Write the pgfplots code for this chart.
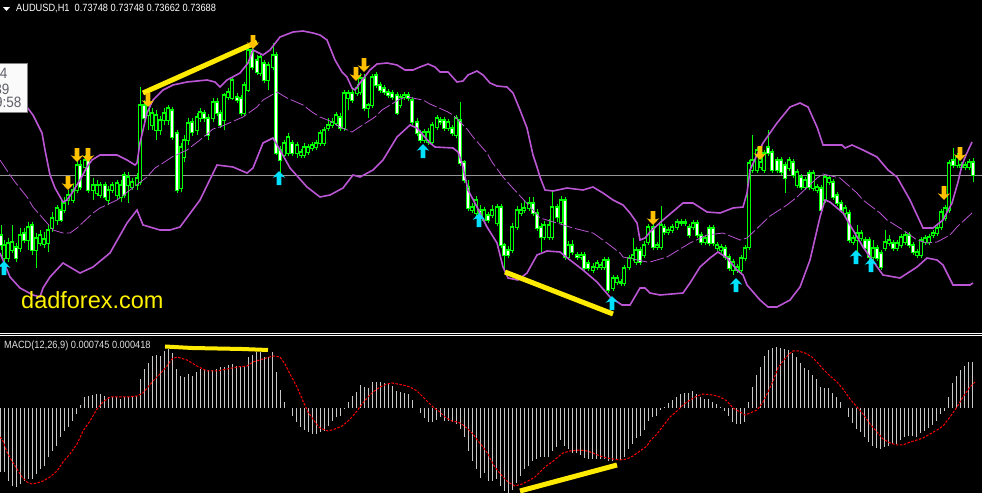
\documentclass[border=0pt]{standalone}
\usepackage{pgfplots}
\pgfplotsset{compat=1.18}
\usepackage{pgfplotstable}
\usepackage{graphicx}
\usepackage{fontspec}
\setmainfont{Liberation Sans}
\definecolor{band}{RGB}{186,85,211}
\definecolor{candle}{RGB}{0,255,0}
\definecolor{acyan}{RGB}{0,225,255}
\definecolor{aorange}{RGB}{255,192,0}
\definecolor{hl}{RGB}{255,235,0}
\definecolor{macdbar}{RGB}{200,200,200}
\definecolor{bid}{RGB}{150,150,150}
\definecolor{tiptext}{RGB}{95,95,105}
\definecolor{macdtext}{RGB}{225,225,225}
\pgfdeclareplotmark{uparr}{%
 \pgfpathmoveto{\pgfqpoint{0pt}{7pt}}%
 \pgfpathlineto{\pgfqpoint{6.3pt}{0.3pt}}%
 \pgfpathlineto{\pgfqpoint{2.3pt}{1.6pt}}%
 \pgfpathlineto{\pgfqpoint{2.3pt}{-7pt}}%
 \pgfpathlineto{\pgfqpoint{-2.3pt}{-7pt}}%
 \pgfpathlineto{\pgfqpoint{-2.3pt}{1.6pt}}%
 \pgfpathlineto{\pgfqpoint{-6.3pt}{0.3pt}}%
 \pgfpathclose\pgfusepathqfill}
\pgfdeclareplotmark{downarr}{%
 \pgfpathmoveto{\pgfqpoint{0pt}{-7pt}}%
 \pgfpathlineto{\pgfqpoint{6.3pt}{-0.3pt}}%
 \pgfpathlineto{\pgfqpoint{2.3pt}{-1.6pt}}%
 \pgfpathlineto{\pgfqpoint{2.3pt}{7pt}}%
 \pgfpathlineto{\pgfqpoint{-2.3pt}{7pt}}%
 \pgfpathlineto{\pgfqpoint{-2.3pt}{-1.6pt}}%
 \pgfpathlineto{\pgfqpoint{-6.3pt}{-0.3pt}}%
 \pgfpathclose\pgfusepathqfill}
\newcommand{\mtfont}[1]{{\fontsize{10.5}{12}\selectfont\scalebox{0.88}[1]{#1}}}
\newcommand{\tipfont}[1]{{\fontsize{15}{17}\selectfont\scalebox{0.9}[1]{#1}}}
% candles in screen pixels: x, body top, body bottom, wick top, wick bottom, t (1 = white/bear)
\pgfplotstableread{
x bt bb wt wb t
1 235 245 225 250 1
4 245 258 240 262 0
8 243 258 238 262 0
12 242 250 225 253 0
16 247 258 243 262 1
20 235 248 228 252 0
24 233 240 228 243 1
28 227 240 222 250 0
32 225 250 222 255 1
36 238 250 233 268 0
40 235 243 230 246 0
44 239 244 232 248 0
48 230 243 225 252 0
52 218 228 212 232 0
57 208 220 205 225 0
61 210 220 198 222 1
64 203 210 197 213 0
68 195 200 190 205 0
73 190 200 184 203 0
77 165 190 158 193 0
80 165 187 160 190 1
85 160 167 155 170 0
88 160 190 157 193 1
93 185 190 178 200 0
97 185 193 180 196 0
100 185 195 182 198 0
105 185 197 182 200 1
108 190 200 186 205 0
112 185 190 182 193 0
117 183 195 180 200 0
121 185 197 180 202 0
124 175 195 172 198 1
128 177 185 172 203 0
132 182 187 178 190 0
137 178 185 173 190 0
140 105 182 87 185 0
144 105 118 100 122 1
148 105 115 100 130 0
152 113 125 108 130 0
156 115 130 110 140 0
160 120 130 116 135 0
164 113 120 108 125 0
168 108 120 105 125 0
172 110 137 107 140 1
177 133 190 130 193 1
181 147 188 143 192 0
184 140 157 135 162 0
188 123 140 118 145 0
192 122 132 118 136 1
197 117 130 113 135 0
200 112 118 108 122 0
204 113 118 110 122 1
208 118 135 114 140 1
213 102 118 98 122 0
217 102 113 98 116 1
220 113 125 110 128 1
224 95 120 93 130 0
228 92 97 88 100 0
232 80 98 77 100 0
237 97 100 93 103 1
241 98 113 95 116 1
244 85 113 82 116 0
248 50 90 47 92 0
252 50 67 47 70 1
257 60 72 55 75 1
260 57 73 55 76 0
264 63 80 60 83 1
268 65 80 62 90 0
273 55 67 43 70 0
276 55 153 52 155 1
280 150 160 146 175 1
284 143 155 140 158 0
288 137 153 133 156 0
292 143 153 140 156 1
297 145 153 142 158 0
301 152 155 149 158 0
304 147 155 143 158 0
308 147 152 144 155 0
312 145 148 142 151 0
316 143 147 140 150 0
320 133 143 130 146 0
324 130 143 127 146 0
328 125 128 118 131 0
332 122 125 118 128 0
336 115 123 112 126 0
340 117 128 113 131 1
344 93 128 90 131 0
348 93 98 90 110 0
352 93 100 88 103 1
357 88 93 84 96 0
360 78 92 73 95 0
364 78 108 74 111 1
368 105 108 103 118 0
372 77 105 74 108 0
376 75 85 72 88 1
380 85 90 82 93 1
384 88 92 85 95 1
388 92 95 89 98 1
392 93 97 90 100 1
397 95 113 92 115 1
400 97 105 94 108 0
404 95 97 92 100 0
408 95 98 92 101 1
412 100 122 97 125 1
417 122 133 118 136 1
420 133 140 130 143 1
424 132 140 129 143 0
428 132 142 128 145 0
432 125 142 122 145 0
437 118 127 115 130 0
440 120 122 117 125 1
444 120 128 117 131 1
448 122 128 119 131 0
452 128 133 125 136 1
456 118 135 115 138 0
460 120 163 102 166 1
464 162 180 160 183 1
468 187 208 180 211 1
472 207 210 203 213 0
476 200 213 196 216 0
480 210 215 205 218 1
484 210 220 207 223 0
488 215 220 212 223 1
492 210 215 205 218 0
497 207 223 204 226 0
501 207 245 204 248 1
504 245 255 243 270 1
508 250 255 246 258 1
512 227 250 223 253 0
517 210 227 206 230 0
521 210 213 203 216 0
524 208 210 200 213 0
529 203 208 197 211 0
533 203 213 197 216 1
537 213 228 209 231 1
541 227 237 223 252 1
544 225 237 221 240 0
549 225 237 219 240 0
552 207 237 190 240 0
557 207 217 204 222 1
561 200 222 196 225 0
565 200 257 197 260 1
568 245 257 241 260 0
572 245 252 240 255 1
577 255 257 252 260 1
581 255 257 252 260 0
584 255 268 252 271 1
588 263 268 260 271 1
593 267 270 263 273 0
597 263 267 260 270 0
601 265 267 262 270 0
604 260 267 257 270 0
608 260 290 257 293 1
613 278 288 275 291 0
617 278 282 275 285 0
621 282 283 279 286 0
624 268 283 265 286 0
629 258 267 255 270 0
633 255 258 238 261 0
636 250 262 247 265 0
640 250 262 247 265 1
644 245 255 241 258 0
648 227 242 224 245 0
653 227 247 224 250 1
657 245 247 242 250 0
661 225 247 206 250 0
664 227 232 224 235 1
668 230 232 227 235 0
672 227 230 224 233 0
677 222 227 219 230 0
681 222 223 219 226 0
685 222 223 219 226 0
689 227 235 224 238 1
693 223 227 220 230 0
697 223 235 220 238 1
701 235 242 232 245 1
705 238 242 235 245 0
709 228 243 225 246 1
713 228 243 225 246 1
717 245 248 242 251 0
721 247 250 244 253 0
725 248 257 245 260 1
729 257 268 254 271 1
733 262 270 259 275 0
737 267 270 264 273 0
741 258 270 255 273 0
745 248 258 245 261 0
749 163 247 160 250 0
752 160 170 135 173 0
757 150 170 147 173 0
761 162 167 158 170 0
764 153 170 150 173 0
768 147 153 130 156 1
772 152 170 149 173 1
777 160 170 157 173 1
781 160 172 157 175 1
785 165 178 162 193 1
789 160 168 157 171 0
793 162 175 159 178 1
797 172 185 169 188 0
801 177 187 174 190 1
805 180 187 177 190 0
809 173 187 170 190 1
813 173 188 170 191 0
817 187 190 184 193 0
821 188 210 185 213 1
825 177 200 174 203 0
829 178 182 175 185 0
833 182 197 179 200 1
837 195 203 192 206 1
841 203 210 200 213 1
845 208 213 205 216 0
849 213 240 210 243 1
853 238 242 235 245 0
857 233 240 225 252 0
861 233 238 230 241 0
865 240 248 237 251 1
869 240 257 237 260 1
873 248 257 240 262 0
877 248 258 245 261 1
881 253 267 250 270 1
885 242 248 230 251 0
889 240 243 235 246 0
893 243 248 240 251 1
897 243 248 240 251 0
901 237 245 234 248 0
905 235 242 232 245 0
909 235 245 232 248 1
913 245 252 242 255 1
917 252 255 249 258 0
921 240 255 237 258 0
925 238 242 235 245 0
929 237 242 234 245 0
933 233 235 230 238 0
937 228 233 225 236 0
941 212 227 209 230 0
945 208 218 205 221 0
949 163 210 160 213 0
953 160 165 148 168 1
957 157 165 153 168 0
961 165 167 162 170 0
965 165 167 162 170 0
969 162 167 159 170 0
973 162 175 158 182 1
}\candles
\begin{document}
\begin{tikzpicture}
\useasboundingbox (0,0) rectangle (982pt,493pt);
\fill[black] (0,0) rectangle (982pt,493pt);
\draw[white, line width=1pt] (0,159.5pt) -- (982pt,159.5pt);
\draw[white, line width=1pt] (0,157.5pt) -- (982pt,157.5pt);
% ---------------- price pane ----------------
\begin{axis}[at={(0pt,160pt)}, anchor=south west, width=982pt, height=333pt,
  scale only axis, xmin=0, xmax=982, ymin=0, ymax=333, y dir=reverse, hide axis]
\addplot[bid, line width=1pt] coordinates {(0,175) (982,175)};
% wicks
\addplot[draw=none, error bars/.cd, y dir=plus, y explicit, error mark=none,
  error bar style={draw=candle, line width=1pt}]
  table[x=x, y=wt, y error expr=\thisrow{wb}-\thisrow{wt}] {\candles};
% bodies
\addplot[draw=none, error bars/.cd, y dir=plus, y explicit, error mark=none,
  error bar style={draw=candle, line width=3.4pt}]
  table[x=x, y expr=\thisrow{bt}-0.7, y error expr=\thisrow{bb}-\thisrow{bt}+1.4] {\candles};
\addplot[draw=none, error bars/.cd, y dir=plus, y explicit, error mark=none,
  error bar style={draw=black, line width=1.6pt}]
  table[x=x, y expr=\thisrow{bt}+0.5, y error expr={max(\thisrow{bb}-\thisrow{bt}-1,0)}] {\candles};
\addplot[draw=none, error bars/.cd, y dir=plus, y explicit, error mark=none,
  error bar style={draw=white, line width=1.6pt}]
  table[x=x, y expr=\thisrow{bt}+0.5, y error expr={\thisrow{t}*max(\thisrow{bb}-\thisrow{bt}-1,0)}] {\candles};
% Bollinger bands
\addplot[band, line width=1.6pt] coordinates {
(0,85) (15,92) (27,107) (33,115) (42,133) (45,150) (48,165) (50,175) (55,188) (63,202) (67,200) (72,193) (80,180) (87,167) (92,160) (100,155) (117,155) (127,160) (135,165) (137,163) (140,143) (147,113) (153,100) (163,90) (173,85) (187,82) (207,80) (215,82) (220,87) (227,80) (240,73) (248,63) (253,50) (263,55) (270,50) (280,37) (293,32) (303,31) (313,33) (320,35) (327,40) (335,60) (342,72) (347,77) (352,88) (355,90) (360,83) (370,70) (377,64) (387,63) (397,65) (405,70) (413,70) (420,67) (428,64) (435,67) (440,72) (448,72) (457,82) (463,81) (468,75) (477,71) (483,75) (490,83) (497,86) (507,87) (513,93) (520,110) (527,128) (533,155) (537,167) (540,177) (545,190) (553,191) (567,188) (583,190) (593,187) (603,193) (613,200) (623,205) (630,213) (637,223) (640,240) (645,238) (650,232) (663,220) (683,203) (693,203) (707,212) (720,213) (733,208) (743,207) (747,193) (750,170) (757,155) (763,143) (777,123) (790,107) (800,103) (808,107) (817,127) (823,145) (842,145) (845,148) (852,145) (863,150) (877,157) (888,170) (897,177) (910,200) (923,228) (933,228) (943,220) (952,203) (958,182) (962,165) (966,155) (972,142)};
\addplot[band, line width=0.8pt, dash pattern=on 14pt off 3pt] coordinates {
(0,160) (10,175) (15,182) (27,197) (33,207) (47,223) (53,230) (63,233) (70,233) (77,228) (93,213) (100,208) (117,200) (130,190) (147,177) (155,168) (163,163) (172,157) (187,150) (200,140) (213,129) (220,127) (243,117) (257,107) (263,100) (277,92) (287,98) (303,105) (312,112) (320,117) (330,121) (340,127) (352,132) (358,128) (375,117) (382,110) (400,99) (407,97) (423,100) (430,104) (448,112) (453,115) (467,129) (473,137) (487,153) (492,162) (503,177) (510,185) (533,210) (540,218) (557,223) (573,228) (593,233) (603,240) (620,253) (623,257) (647,262) (650,262) (667,257) (690,243) (707,235) (723,233) (740,240) (747,238) (770,216) (787,205) (797,197) (817,178) (823,174) (840,178) (857,193) (863,200) (880,213) (887,220) (903,230) (917,240) (927,243) (937,242) (950,235) (957,227) (972,213)};
\addplot[band, line width=1.6pt] coordinates {
(0,253) (10,277) (20,288) (33,295) (40,297) (43,288) (50,277) (63,263) (80,273) (93,267) (110,253) (127,223) (137,210) (143,225) (160,230) (170,230) (180,227) (200,200) (217,165) (233,167) (247,173) (253,168) (263,143) (273,138) (280,150) (290,168) (307,187) (320,197) (330,195) (343,188) (353,175) (360,177) (373,170) (383,160) (397,137) (410,125) (417,128) (430,143) (435,147) (453,148) (458,152) (462,163) (468,190) (477,207) (487,227) (497,243) (503,267) (508,278) (518,280) (527,273) (537,255) (547,251) (560,252) (570,260) (583,270) (597,282) (610,297) (622,305) (630,305) (640,288) (645,288) (650,293) (660,295) (683,293) (690,283) (700,267) (710,258) (718,252) (727,258) (737,270) (743,275) (747,285) (760,300) (768,307) (777,307) (790,300) (800,287) (810,260) (820,217) (825,200) (830,202) (843,213) (853,230) (863,247) (870,257) (883,275) (900,278) (917,267) (927,258) (937,260) (943,265) (953,285) (970,285) (973,283)};
% signal arrows
\addplot[only marks, mark=uparr, color=acyan] coordinates {
(4,268) (279,178) (423,151) (479,220) (612,303) (736,285) (856,257) (871,265)};
\addplot[only marks, mark=downarr, color=aorange] coordinates {
(68,183) (77,155) (88,155) (148,100) (253,42) (356,74) (364,65) (653,218) (760,153) (944,193) (960,154)};
% hand-drawn divergence lines
\addplot[hl, line width=5pt] coordinates {(143,93) (257,42)};
\addplot[hl, line width=5pt] coordinates {(505,272) (613,314)};
% texts
\fill[white] (axis cs:3,7) -- (axis cs:10,7) -- (axis cs:6.5,11) -- cycle;
\node[anchor=base west, inner sep=0pt, text=white] at (axis cs:16,12)
  {\mtfont{AUDUSD,H1\ \ 0.73748 0.73748 0.73662 0.73688}};
\filldraw[fill=white!96!gray, draw=gray] (axis cs:-2,63) rectangle (axis cs:27,112);
\node[anchor=base east, inner sep=0pt, text=tiptext] at (axis cs:7.5,78) {\tipfont{4}};
\node[anchor=base east, inner sep=0pt, text=tiptext] at (axis cs:9.5,94) {\tipfont{39}};
\node[anchor=base east, inner sep=0pt, text=tiptext] at (axis cs:21.5,107) {\tipfont{9:58}};
\node[anchor=base west, inner sep=0pt, text=yellow] at (axis cs:21,308)
  {\fontsize{23.5}{26}\selectfont dadforex.com};
\end{axis}
% ---------------- MACD pane ----------------
\begin{axis}[at={(0pt,0pt)}, anchor=south west, width=982pt, height=156pt,
  scale only axis, xmin=0, xmax=982, ymin=-85, ymax=71, hide axis]
\addplot[ycomb, draw=macdbar, line width=1pt, mark=none] coordinates {
(0.5,-64) (4.5,-64) (8.5,-73) (12.5,-78) (16.5,-79) (20.5,-76) (24.5,-73) (28.5,-71) (32.5,-71) (36.5,-66)
(40.5,-61) (44.5,-58) (48.5,-49) (52.5,-43) (56.5,-38) (60.5,-29) (64.5,-23) (68.5,-19) (72.5,-13) (76.5,-6)
(80.5,3) (84.5,11) (88.5,12) (92.5,13) (96.5,14) (100.5,14) (104.5,12) (108.5,11) (112.5,11) (116.5,11)
(120.5,9) (124.5,11) (128.5,11) (132.5,11) (136.5,12) (140.5,29) (144.5,39) (148.5,45) (152.5,52) (156.5,53)
(160.5,52) (164.5,57) (168.5,59) (172.5,55) (176.5,39) (180.5,32) (184.5,31) (188.5,34) (192.5,32) (196.5,36)
(200.5,39) (204.5,38) (208.5,38) (212.5,38) (216.5,39) (220.5,41) (224.5,41) (228.5,43) (232.5,44) (236.5,42)
(240.5,41) (244.5,42) (248.5,51) (252.5,53) (256.5,56) (260.5,56) (264.5,51) (268.5,51) (272.5,56) (276.5,36)
(280.5,18) (284.5,6) (288.5,0) (292.5,-8) (296.5,-14) (300.5,-19) (304.5,-22) (308.5,-24) (312.5,-26) (316.5,-26)
(320.5,-24) (324.5,-23) (328.5,-18) (332.5,-13) (336.5,-9) (340.5,-8) (344.5,-1) (348.5,6) (352.5,12) (356.5,16)
(360.5,23) (364.5,21) (368.5,20) (372.5,26) (376.5,26) (380.5,26) (384.5,25) (388.5,24) (392.5,22) (396.5,17)
(400.5,16) (404.5,15) (408.5,14) (412.5,8) (416.5,0) (420.5,-5) (424.5,-10) (428.5,-14) (432.5,-14) (436.5,-12)
(440.5,-9) (444.5,-13) (448.5,-13) (452.5,-14) (456.5,-16) (460.5,-21) (464.5,-29) (468.5,-43) (472.5,-53) (476.5,-61)
(480.5,-70) (484.5,-65) (488.5,-73) (492.5,-73) (496.5,-71) (500.5,-78) (504.5,-83) (508.5,-85) (512.5,-82) (516.5,-75)
(520.5,-68) (524.5,-61) (528.5,-58) (532.5,-53) (536.5,-51) (540.5,-49) (544.5,-49) (548.5,-49) (552.5,-43) (556.5,-39)
(560.5,-32) (564.5,-38) (568.5,-41) (572.5,-45) (576.5,-45) (580.5,-47) (584.5,-50) (588.5,-51) (592.5,-51) (596.5,-51)
(600.5,-51) (604.5,-51) (608.5,-53) (612.5,-53) (616.5,-52) (620.5,-52) (624.5,-49) (628.5,-41) (632.5,-36) (636.5,-30)
(640.5,-28) (644.5,-22) (648.5,-13) (652.5,-9) (656.5,-8) (660.5,-2) (664.5,1) (668.5,5) (672.5,8) (676.5,11)
(680.5,14) (684.5,15) (688.5,15) (692.5,17) (696.5,14) (700.5,11) (704.5,9) (708.5,9) (712.5,6) (716.5,4)
(720.5,1) (724.5,-3) (728.5,-8) (732.5,-14) (736.5,-16) (740.5,-16) (744.5,-14) (748.5,6) (752.5,21) (756.5,33)
(760.5,41) (764.5,52) (768.5,58) (772.5,60) (776.5,61) (780.5,60) (784.5,59) (788.5,58) (792.5,55) (796.5,51)
(800.5,45) (804.5,40) (808.5,38) (812.5,33) (816.5,29) (820.5,21) (824.5,20) (828.5,20) (832.5,15) (836.5,11)
(840.5,6) (844.5,0) (848.5,-9) (852.5,-15) (856.5,-21) (860.5,-24) (864.5,-29) (868.5,-34) (872.5,-38) (876.5,-40)
(880.5,-41) (884.5,-39) (888.5,-38) (892.5,-36) (896.5,-36) (900.5,-32) (904.5,-29) (908.5,-28) (912.5,-28) (916.5,-29)
(920.5,-25) (924.5,-23) (928.5,-20) (932.5,-17) (936.5,-13) (940.5,-6) (944.5,-3) (948.5,11) (952.5,25) (956.5,32)
(960.5,38) (964.5,42) (968.5,46) (972.5,46)};
\addplot[red, line width=1pt, dash pattern=on 2.5pt off 1.5pt] coordinates {
(0,-29) (3,-33) (7,-44) (12,-53) (17,-61) (22,-69) (27,-74) (32,-76) (37,-75) (43,-73) (50,-69) (57,-63) (63,-54) (70,-46) (77,-36) (83,-23) (90,-13) (97,-1) (103,6) (110,11) (117,11) (127,11) (137,12) (143,15) (148,21) (153,27) (160,34) (167,42) (172,49) (177,51) (187,48) (197,42) (207,37) (217,37) (227,39) (237,41) (247,42) (253,46) (263,49) (273,52) (280,51) (285,44) (290,34) (297,21) (303,7) (308,-4) (315,-14) (320,-20) (328,-23) (335,-21) (342,-18) (347,-14) (352,-9) (357,-3) (362,4) (368,11) (373,16) (380,21) (387,24) (392,25) (403,23) (410,21) (417,17) (422,12) (427,7) (433,1) (440,-4) (445,-9) (452,-13) (458,-14) (463,-17) (468,-21) (473,-26) (478,-33) (483,-39) (488,-46) (493,-56) (498,-63) (503,-69) (508,-74) (515,-78) (522,-76) (528,-73) (535,-69) (540,-64) (545,-59) (552,-54) (558,-49) (563,-45) (570,-43) (580,-42) (587,-43) (593,-45) (600,-48) (607,-50) (613,-51) (620,-52) (627,-51) (633,-48) (640,-43) (647,-38) (650,-33) (657,-26) (663,-18) (670,-9) (677,-3) (683,3) (690,8) (697,12) (703,14) (713,13) (720,11) (727,7) (733,0) (740,-4) (745,-7) (750,-5) (757,-2) (763,6) (768,16) (773,27) (778,40) (783,47) (788,53) (793,57) (798,57) (805,55) (812,51) (817,46) (823,39) (830,32) (837,26) (843,19) (850,9) (857,1) (863,-6) (870,-16) (877,-24) (883,-31) (890,-35) (897,-37) (903,-37) (910,-34) (917,-32) (923,-30) (930,-26) (937,-22) (943,-18) (950,-9) (957,1) (963,11) (970,21) (975,26)};
\addplot[hl, line width=4pt] coordinates {(165,61.5) (192,60) (242,59) (268,58)};
\addplot[hl, line width=5pt] coordinates {(520,-83) (617,-57)};
\node[anchor=base west, inner sep=0pt, text=macdtext] at (axis cs:4,59)
  {\mtfont{MACD(12,26,9) 0.000745 0.000418}};
\end{axis}
\end{tikzpicture}
\end{document}
